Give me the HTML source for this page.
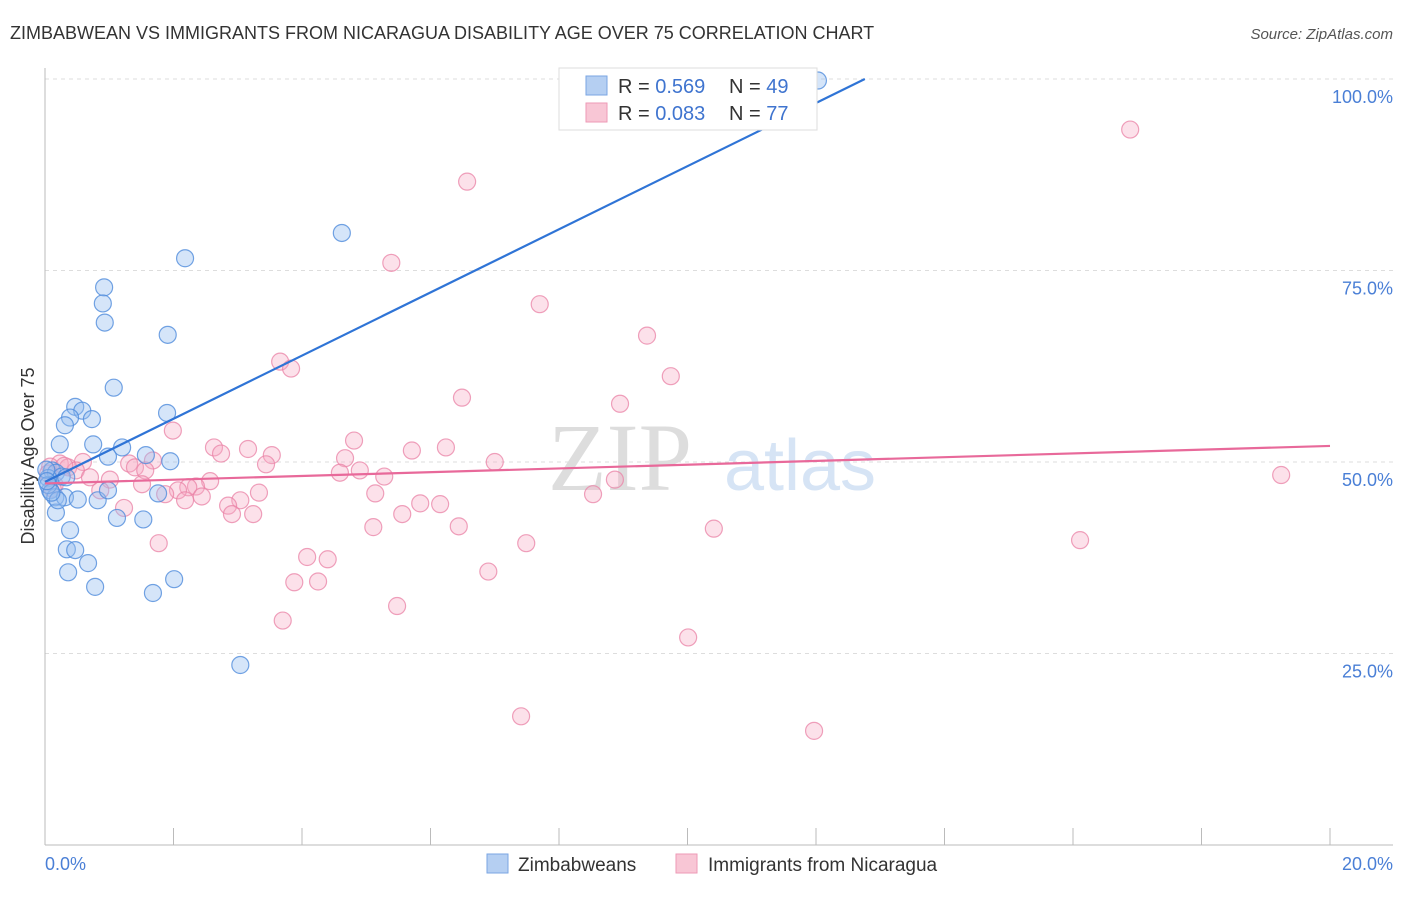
<!DOCTYPE html>
<html><head><meta charset="utf-8"><style>
body{margin:0;background:#fff;font-family:"Liberation Sans",sans-serif;}
</style></head><body>
<svg width="1406" height="892" xmlns="http://www.w3.org/2000/svg" style="font-family:'Liberation Sans',sans-serif">
<text x="10" y="39" font-size="18" fill="#333">ZIMBABWEAN VS IMMIGRANTS FROM NICARAGUA DISABILITY AGE OVER 75 CORRELATION CHART</text>
<text x="1393" y="39" font-size="15" fill="#555" font-style="italic" text-anchor="end">Source: ZipAtlas.com</text>
<text x="620" y="490" font-size="96" fill="#ddd" font-family="Liberation Serif" text-anchor="middle">ZIP</text>
<text x="800" y="490" font-size="72" fill="#d6e4f5" text-anchor="middle">atlas</text>
<g id="grid"></g>
<g id="axes"></g>
<g id="pts"></g>
<g id="lines"></g>
<text transform="translate(34,456) rotate(-90)" font-size="18" fill="#333" text-anchor="middle">Disability Age Over 75</text>
<g>
<rect x="559" y="68" width="258" height="62" fill="#fff" stroke="#ddd"/>
<rect x="586" y="76" width="21" height="19" fill="#b5cff2" stroke="#7aa6e3"/>
<rect x="586" y="103" width="21" height="19" fill="#f8c6d5" stroke="#ee9ab6"/>
<text x="618" y="93" font-size="20" fill="#333">R = <tspan fill="#3f74cf">0.569</tspan><tspan x="729">N = </tspan><tspan fill="#3f74cf">49</tspan></text>
<text x="618" y="120" font-size="20" fill="#333">R = <tspan fill="#3f74cf">0.083</tspan><tspan x="729">N = </tspan><tspan fill="#3f74cf">77</tspan></text>
</g>
<g>
<rect x="487" y="854" width="21" height="19" fill="#b5cff2" stroke="#7aa6e3"/>
<text x="518" y="871" font-size="19" fill="#333">Zimbabweans</text>
<rect x="676" y="854" width="21" height="19" fill="#f8c6d5" stroke="#ee9ab6"/>
<text x="708" y="871" font-size="19" fill="#333">Immigrants from Nicaragua</text>
</g>
</svg>
<script>
const yTicks=[25,50,75,100];
const yTickLabels=["25.0%","50.0%","75.0%","100.0%"];
const blueX=[12.03,4.62,2.18,0.92,0.90,0.93,1.91,1.07,1.90,0.47,0.58,0.39,0.73,0.31,0.23,0.75,1.20,1.57,0.98,1.95,0.11,0.17,0.26,0.05,0.33,0.08,0.16,0.31,0.51,0.82,0.98,1.76,0.17,1.12,1.53,0.39,0.34,0.47,0.67,0.36,2.01,0.78,1.68,3.04,0.05,0.2,0.1,0.02,0.03];
const blueY=[99.8,79.9,76.6,72.8,70.7,68.2,66.6,59.7,56.4,57.2,56.7,55.8,55.6,54.8,52.3,52.3,51.9,50.9,50.7,50.1,48.9,48.6,48.1,47.9,48.0,46.3,45.4,45.4,45.1,45.0,46.3,45.9,43.4,42.7,42.5,41.1,38.6,38.5,36.8,35.6,34.7,33.7,32.9,23.5,47.0,45.0,46.0,49.0,47.5];
const pinkX=[16.89,6.57,5.39,7.70,9.37,3.66,3.83,9.74,6.49,8.95,1.99,4.81,6.24,5.71,2.63,3.16,2.74,3.53,1.68,4.67,7.00,3.44,1.31,1.40,0.23,0.59,0.36,0.08,0.48,1.56,4.59,4.90,5.28,19.24,8.87,1.01,2.57,2.35,2.23,1.51,0.86,2.07,3.33,5.14,1.87,8.53,2.44,2.18,3.04,5.84,6.15,2.85,2.91,3.24,5.56,1.23,5.11,6.44,10.41,7.49,1.77,16.11,4.08,4.40,6.90,3.88,4.25,5.48,3.70,10.01,7.41,11.97,0.05,0.15,0.3,0.7,0.12];
const pinkY=[93.4,86.6,76.0,70.6,66.5,63.1,62.2,61.2,58.4,57.6,54.1,52.8,51.9,51.5,51.9,51.7,51.1,50.9,50.2,50.5,50.0,49.7,49.8,49.3,49.8,50.0,49.3,49.4,48.9,48.9,48.6,48.9,48.1,48.3,47.7,47.7,47.5,46.8,46.7,47.1,46.3,46.3,46.0,45.9,45.8,45.8,45.5,45.0,45.0,44.6,44.5,44.3,43.2,43.2,43.2,44.0,41.5,41.6,41.3,39.4,39.4,39.8,37.6,37.3,35.7,34.3,34.4,31.2,29.3,27.1,16.8,14.9,48.5,47.0,49.5,48.0,46.5];
const blueLine=[0,47.4,12.76,100];
const pinkLine=[0,47.2,20,52.1];
const NS="http://www.w3.org/2000/svg";
const X0=45,X1=1330,Y0=845,Y100=79;
function sx(v){return X0+(v/20)*(X1-X0);}
function sy(v){return Y0-(v/100)*(Y0-Y100);}
function mk(tag,attrs,parent){const e=document.createElementNS(NS,tag);for(const k in attrs)e.setAttribute(k,attrs[k]);parent.appendChild(e);return e;}
const grid=document.getElementById('grid'),axes=document.getElementById('axes'),pts=document.getElementById('pts'),lines=document.getElementById('lines');
yTicks.forEach((t,i)=>{
 const l=mk('line',{x1:X0,x2:1393,y1:sy(t),y2:sy(t),stroke:'#ddd','stroke-dasharray':'4,4'},grid);
 
 
 const tx=mk('text',{x:1393,y:sy(t)+24,'font-size':18,fill:'#4a7fd6','text-anchor':'end'},grid);
 tx.textContent=yTickLabels[i];
 
 
});
let a=mk('line',{x1:X0,x2:X0,y1:68,y2:Y0,stroke:'#bbb'},axes);


a=mk('line',{x1:X0,x2:1393,y1:Y0,y2:Y0,stroke:'#bbb'},axes);


for(let i=0;i<=10;i++){
 const t=mk('line',{x1:sx(i*2),x2:sx(i*2),y1:Y0,y2:828,stroke:'#bbb'},axes);
 
 
}
let xl=mk('text',{x:45,y:870,'font-size':18,fill:'#4a7fd6'},axes);xl.textContent='0.0%';


xl=mk('text',{x:1393,y:870,'font-size':18,fill:'#4a7fd6','text-anchor':'end'},axes);xl.textContent='20.0%';


pinkX.forEach((x,i)=>{
 const c=mk('circle',{cx:sx(x),cy:sy(pinkY[i]),r:8.5,fill:'rgba(245,170,195,0.35)',stroke:'rgba(234,130,165,0.75)','stroke-width':1.2},pts);
 
 
});
blueX.forEach((x,i)=>{
 const c=mk('circle',{cx:sx(x),cy:sy(blueY[i]),r:8.5,fill:'rgba(150,190,240,0.4)',stroke:'rgba(80,140,220,0.8)','stroke-width':1.2},pts);
 
 
});
let ln=mk('line',{x1:sx(blueLine[0]),y1:sy(blueLine[1]),x2:sx(blueLine[2]),y2:sy(blueLine[3]),stroke:'#2f74d6','stroke-width':2.2},lines);


ln=mk('line',{x1:sx(pinkLine[0]),y1:sy(pinkLine[1]),x2:sx(pinkLine[2]),y2:sy(pinkLine[3]),stroke:'#e8699a','stroke-width':2.2},lines);


</script>
</body></html>
